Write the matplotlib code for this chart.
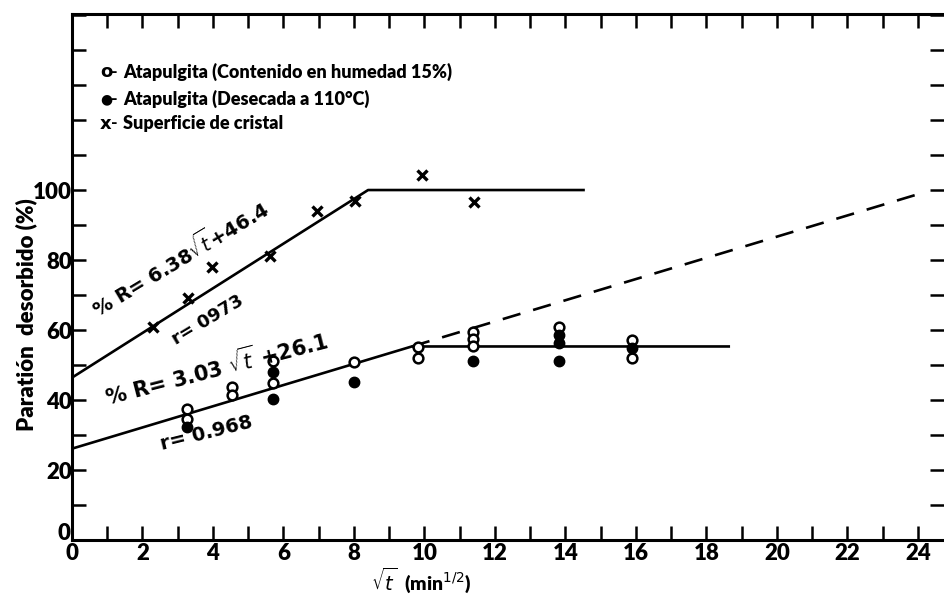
import numpy as np
import matplotlib
matplotlib.use("Agg")
import matplotlib.pyplot as plt
from matplotlib.transforms import ScaledTranslation

plt.rcParams['font.family'] = ['Lato', 'DejaVu Sans']
plt.rcParams['mathtext.fontset'] = 'dejavusans'

# --- data ---
cross_x = [2.30, 3.30, 3.97, 5.62, 6.95, 8.03, 9.92, 11.41]
cross_y = [60.9, 69.1, 78.0, 81.1, 94.0, 96.9, 104.3, 96.7]

open_x = [3.26, 3.26, 4.53, 4.53, 5.71, 5.71, 8.0, 9.82, 9.82, 11.38, 11.38, 11.38, 13.82, 15.9, 15.9]
open_y = [37.3, 34.6, 43.8, 41.4, 51.1, 44.8, 50.9, 55.2, 52.1, 59.4, 57.4, 55.4, 60.9, 57.1, 52.1]

filled_x = [3.26, 5.71, 5.71, 8.0, 11.38, 13.82, 13.82, 13.82, 15.9]
filled_y = [32.3, 48.1, 40.3, 45.2, 51.2, 58.5, 56.3, 51.2, 54.8]

line1_x = [0, 8.40, 14.55]
line1_y = [46.4, 100.0, 100.0]
line2_x = [0, 9.64, 18.67]
line2_y = [26.1, 55.3, 55.3]
dash_x = [9.64, 24.1]
dash_y = [55.3, 99.1]

xticklabels = ['0', '2', '4', '6', '8', '10', '12', '14', '16', '18', '20', '22', '24']
yticklabels = ['0', '20', '40', '60', '80', '100']

legend_syms = ['o', '●', 'x']
legend_texts = ['Atapulgita (Contenido en humedad 15%)',
                'Atapulgita (Desecada a 110°C)',
                'Superficie de cristal']

fig = plt.figure(figsize=(9.44, 5.97), dpi=100)
ax = fig.add_axes([72/944, 1 - 540/597, 1 - 72/944, (540 - 14)/597])
ax.set_xlim(0, 24.74)
ax.set_ylim(0, 150.3)

lw = 1.9
ax.plot(line1_x, line1_y, color='black', lw=lw, solid_capstyle='butt', zorder=2)
ax.plot(line2_x, line2_y, color='black', lw=lw, solid_capstyle='butt', zorder=2)
ax.plot(dash_x, dash_y, color='black', lw=lw, dashes=(7, 5), zorder=2)

ax.plot(cross_x, cross_y, ls='none', marker='x', ms=7, mew=2.4, color='black', zorder=3)
ax.plot(open_x, open_y, ls='none', marker='o', ms=7, mew=1.8, mfc='white', mec='black', zorder=3)
ax.plot(filled_x, filled_y, ls='none', marker='o', ms=7.5, mfc='black', mec='black', zorder=4)

# spines
for s in ['left', 'bottom', 'top']:
    ax.spines[s].set_linewidth(2.2)
ax.spines['right'].set_visible(False)

ax.set_xticks(np.arange(0, 25, 1), minor=True)
ax.set_xticks(np.arange(0, 25, 2))
ax.set_xticklabels(xticklabels)
ax.set_yticks(np.arange(0, 151, 10), minor=True)
ax.set_yticks(np.arange(0, 101, 20))
ax.set_yticklabels(yticklabels)

ax.tick_params(axis='both', which='both', direction='in', width=1.8, length=10,
               top=True, right=True, labelsize=16)
ax.tick_params(axis='x', which='both', pad=2)
ax.tick_params(axis='y', which='both', pad=0)
for lab in ax.get_xticklabels() + ax.get_yticklabels():
    lab.set_fontweight('heavy')
# lift the y "0" a little so it does not collide with the x "0"
ylab0 = ax.get_yticklabels()[0]
ylab0.set_transform(ylab0.get_transform() + ScaledTranslation(-2/100, 8/100, fig.dpi_scale_trans))

ax.set_xlabel(r'$\sqrt{t}$  (min$^{1/2}$)', fontsize=14, fontweight='heavy', labelpad=0)
ax.xaxis.set_label_coords(0.40, -0.048)
ax.set_ylabel('Paratión  desorbido (%)', fontsize=16, fontweight='heavy', labelpad=4)
ax.yaxis.set_label_coords(-0.04, 0.428)

# legend (as text)
rows_y = [133.7, 126.0, 118.9]
sym_sizes = [13, 10, 13]
for sym, txt, yy, ss in zip(legend_syms, legend_texts, rows_y, sym_sizes):
    ax.text(0.80, yy, sym, fontsize=ss, fontweight='bold', va='center', ha='left',
            family=['DejaVu Sans'])
    ax.text(1.10, yy, '-', fontsize=13, fontweight='bold', va='center', ha='left')
    ax.text(1.45, yy, txt, fontsize=13, fontweight='heavy', va='center', ha='left')

# equations
eqfont = ['DejaVu Sans']
ax.text(0.75, 63.5, r'% R= 6.38$\sqrt{t}$+46.4', rotation=31, rotation_mode='anchor',
        fontsize=14, fontweight='bold', ha='left', va='baseline', family=eqfont)
ax.text(2.95, 55.8, 'r= 0973', rotation=31, rotation_mode='anchor',
        fontsize=13, fontweight='bold', ha='left', va='baseline', family=eqfont)
ax.text(1.0, 38.2, r'% R= 3.03 $\sqrt{t}$ +26.1', rotation=14.5, rotation_mode='anchor',
        fontsize=15, fontweight='bold', ha='left', va='baseline', family=eqfont)
ax.text(2.55, 25.8, 'r= 0.968', rotation=14, rotation_mode='anchor',
        fontsize=14, fontweight='bold', ha='left', va='baseline', family=eqfont)

fig.savefig('out.png', dpi=100)
